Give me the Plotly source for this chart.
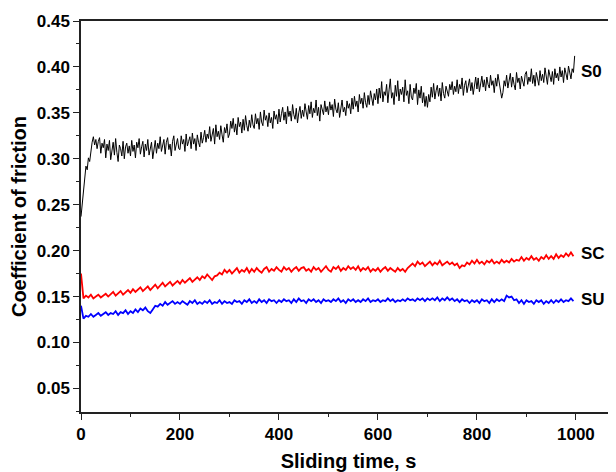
import plotly.graph_objects as go

# Sampling times (s): S0 every 2.5 s, SC/SU every 5 s
time_s0 = [i * 2.5 for i in range(400)]
time_s = list(range(0, 1000, 5))

s0 = [
    0.237, 0.252, 0.268, 0.281, 0.292, 0.288, 0.301, 0.297, 0.309, 0.318, 0.324, 0.315, 0.321, 0.311, 0.319, 0.323, 0.306, 0.317, 0.312, 0.321,
    0.301, 0.316, 0.309, 0.320, 0.299, 0.312, 0.318, 0.304, 0.322, 0.307, 0.297, 0.315, 0.311, 0.303, 0.319, 0.300, 0.313, 0.317, 0.306, 0.314,
    0.303, 0.320, 0.308, 0.315, 0.301, 0.318, 0.312, 0.322, 0.305, 0.313, 0.319, 0.302, 0.316, 0.309, 0.321, 0.304, 0.312, 0.318, 0.300, 0.314,
    0.320, 0.306, 0.317, 0.311, 0.324, 0.308, 0.315, 0.321, 0.305, 0.318, 0.323, 0.310, 0.316, 0.303, 0.319, 0.325, 0.309, 0.314, 0.322, 0.311,
    0.310, 0.325, 0.316, 0.321, 0.308, 0.327, 0.314, 0.319, 0.324, 0.311, 0.328, 0.316, 0.322, 0.309, 0.326, 0.318, 0.313, 0.329, 0.317, 0.323,
    0.331, 0.318, 0.327, 0.322, 0.335, 0.319, 0.329, 0.333, 0.316, 0.337, 0.324, 0.330, 0.321, 0.336, 0.326, 0.318, 0.334, 0.328, 0.338, 0.323,
    0.327, 0.341, 0.333, 0.344, 0.329, 0.338, 0.326, 0.345, 0.335, 0.340, 0.328, 0.343, 0.331, 0.347, 0.336, 0.330, 0.342, 0.334, 0.348, 0.337,
    0.333, 0.349, 0.338, 0.344, 0.332, 0.351, 0.340, 0.336, 0.353, 0.342, 0.347, 0.335, 0.350, 0.339, 0.345, 0.333, 0.352, 0.343, 0.348, 0.338,
    0.354, 0.340, 0.349, 0.356, 0.342, 0.351, 0.338, 0.357, 0.346, 0.352, 0.341, 0.359, 0.348, 0.343, 0.355, 0.339, 0.350, 0.357, 0.344, 0.353,
    0.346, 0.360, 0.351, 0.343, 0.358, 0.349, 0.362, 0.345, 0.355, 0.350, 0.364, 0.347, 0.356, 0.341, 0.359, 0.353, 0.348, 0.363, 0.351, 0.357,
    0.348, 0.362, 0.353, 0.359, 0.346, 0.365, 0.354, 0.350, 0.361, 0.345, 0.358, 0.364, 0.351, 0.356, 0.347, 0.363, 0.355, 0.360, 0.349, 0.366,
    0.354, 0.368, 0.357, 0.363, 0.351, 0.370, 0.360, 0.366, 0.355, 0.372, 0.361, 0.356, 0.369, 0.359, 0.374, 0.363, 0.358, 0.371, 0.364, 0.376,
    0.360, 0.377, 0.366, 0.384, 0.362, 0.373, 0.369, 0.381, 0.361, 0.375, 0.387, 0.366, 0.372, 0.359, 0.380, 0.368, 0.385, 0.363, 0.376, 0.370,
    0.378, 0.362, 0.386, 0.369, 0.374, 0.360, 0.381, 0.367, 0.364, 0.377, 0.371, 0.382, 0.359, 0.375, 0.366, 0.379, 0.361, 0.372, 0.357, 0.368,
    0.356, 0.370, 0.362, 0.378, 0.367, 0.382, 0.365, 0.374, 0.380, 0.368, 0.377, 0.363, 0.383, 0.371, 0.366, 0.379, 0.373, 0.368, 0.381, 0.375,
    0.384, 0.370, 0.379, 0.373, 0.386, 0.371, 0.381, 0.376, 0.388, 0.369, 0.380, 0.385, 0.372, 0.378, 0.387, 0.374, 0.383, 0.370, 0.382, 0.389,
    0.376, 0.388, 0.373, 0.384, 0.390, 0.378, 0.386, 0.374, 0.389, 0.381, 0.377, 0.391, 0.380, 0.385, 0.372, 0.388, 0.379, 0.392, 0.383, 0.376,
    0.366, 0.372, 0.385, 0.379, 0.391, 0.377, 0.384, 0.393, 0.378, 0.389, 0.381, 0.375, 0.394, 0.383, 0.388, 0.376, 0.390, 0.384, 0.379, 0.392,
    0.395, 0.381, 0.389, 0.384, 0.398, 0.382, 0.391, 0.379, 0.394, 0.387, 0.380, 0.396, 0.385, 0.392, 0.383, 0.399, 0.386, 0.381, 0.397, 0.390,
    0.384, 0.395, 0.381, 0.398, 0.388, 0.393, 0.385, 0.400, 0.389, 0.396, 0.383, 0.399, 0.390, 0.386, 0.401, 0.392, 0.387, 0.398, 0.394, 0.412,
]

sc = [
    0.175, 0.148, 0.151, 0.149, 0.152, 0.148, 0.150, 0.152, 0.149, 0.151,
    0.153, 0.150, 0.152, 0.155, 0.151, 0.154, 0.156, 0.152, 0.155, 0.157,
    0.154, 0.158, 0.155, 0.157, 0.160, 0.156, 0.159, 0.161, 0.157, 0.160,
    0.163, 0.159, 0.162, 0.165, 0.161, 0.164, 0.166, 0.162, 0.165, 0.167,
    0.164, 0.168, 0.165, 0.167, 0.170, 0.166, 0.169, 0.171, 0.168, 0.172,
    0.170, 0.174, 0.171, 0.168, 0.172, 0.173, 0.176, 0.174, 0.179, 0.176,
    0.179, 0.175, 0.178, 0.181, 0.176, 0.179, 0.177, 0.181, 0.176, 0.180,
    0.177, 0.181, 0.178, 0.176, 0.180, 0.182, 0.177, 0.180, 0.178, 0.182,
    0.179, 0.177, 0.182, 0.179, 0.181, 0.177, 0.180, 0.182, 0.178, 0.181,
    0.182, 0.178, 0.180, 0.177, 0.182, 0.179, 0.181, 0.177, 0.180, 0.183,
    0.179, 0.177, 0.182, 0.180, 0.183, 0.178, 0.181, 0.179, 0.183, 0.180,
    0.182, 0.179, 0.183, 0.178, 0.181, 0.179, 0.182, 0.177, 0.180, 0.178,
    0.181, 0.177, 0.180, 0.182, 0.178, 0.181, 0.179, 0.177, 0.181, 0.178,
    0.180, 0.177, 0.181, 0.184, 0.186, 0.183, 0.188, 0.185, 0.187, 0.183,
    0.186, 0.188, 0.184, 0.187, 0.185, 0.189, 0.184, 0.186, 0.188, 0.185,
    0.187, 0.184, 0.186, 0.181, 0.184, 0.183, 0.187, 0.185, 0.189, 0.186,
    0.190, 0.186, 0.188, 0.185, 0.189, 0.187, 0.190, 0.186, 0.188, 0.186,
    0.190, 0.187, 0.189, 0.187, 0.191, 0.188, 0.190, 0.189, 0.193, 0.189,
    0.192, 0.190, 0.194, 0.190, 0.192, 0.189, 0.193, 0.191, 0.195, 0.191,
    0.194, 0.191, 0.196, 0.192, 0.195, 0.193, 0.197, 0.194, 0.198, 0.194,
]

su = [
    0.140, 0.126, 0.129, 0.128, 0.131, 0.128, 0.130, 0.132, 0.129, 0.131,
    0.133, 0.130, 0.132, 0.131, 0.134, 0.130, 0.133, 0.132, 0.135, 0.131,
    0.134, 0.132, 0.136, 0.133, 0.137, 0.135, 0.138, 0.134, 0.132, 0.136,
    0.140, 0.139, 0.142, 0.140, 0.144, 0.141, 0.143, 0.145, 0.142, 0.144,
    0.142, 0.145, 0.143, 0.141, 0.145, 0.143, 0.146, 0.142, 0.144, 0.142,
    0.145, 0.143, 0.146, 0.142, 0.144, 0.143, 0.146, 0.142, 0.145, 0.143,
    0.144, 0.142, 0.146, 0.144, 0.145, 0.142, 0.146, 0.144, 0.147, 0.143,
    0.145, 0.143, 0.147, 0.144, 0.146, 0.143, 0.147, 0.145, 0.146, 0.143,
    0.146, 0.144, 0.147, 0.145, 0.146, 0.143, 0.147, 0.144, 0.148, 0.145,
    0.146, 0.143, 0.147, 0.145, 0.147, 0.144, 0.146, 0.143, 0.147, 0.145,
    0.146, 0.144, 0.147, 0.145, 0.148, 0.144, 0.146, 0.143, 0.147, 0.145,
    0.147, 0.144, 0.146, 0.144, 0.147, 0.145, 0.148, 0.144, 0.146, 0.145,
    0.147, 0.144, 0.146, 0.145, 0.148, 0.145, 0.147, 0.144, 0.146, 0.145,
    0.147, 0.145, 0.148, 0.146, 0.147, 0.145, 0.148, 0.146, 0.148, 0.145,
    0.148, 0.146, 0.148, 0.146, 0.149, 0.145, 0.148, 0.146, 0.149, 0.146,
    0.148, 0.145, 0.147, 0.144, 0.147, 0.145, 0.146, 0.143, 0.146, 0.144,
    0.146, 0.143, 0.147, 0.145, 0.146, 0.143, 0.147, 0.144, 0.147, 0.145,
    0.147, 0.145, 0.151, 0.149, 0.150, 0.146, 0.147, 0.143, 0.146, 0.142,
    0.146, 0.144, 0.145, 0.142, 0.146, 0.144, 0.146, 0.142, 0.145, 0.143,
    0.146, 0.143, 0.146, 0.144, 0.147, 0.144, 0.146, 0.145, 0.148, 0.145,
]

series_names = ["S0", "SC", "SU"]
series_colors = ["#000000", "#ff0000", "#0000ff"]
series_widths = [1.0, 1.8, 1.8]
series_times = [time_s0, time_s, time_s]
series_values = [s0, sc, su]
label_y = [0.3946, 0.1972, 0.1468]

x_ticks = [0, 200, 400, 600, 800, 1000]
y_ticks = [0.05, 0.10, 0.15, 0.20, 0.25, 0.30, 0.35, 0.40, 0.45]

FONT = "Liberation Sans, Arial, sans-serif"

fig = go.Figure()
for name, col, w, xs, vals in zip(series_names, series_colors, series_widths, series_times, series_values):
    fig.add_trace(go.Scatter(x=xs, y=vals, mode="lines", name=name,
                             line=dict(color=col, width=w), showlegend=False))

for name, yv in zip(series_names, label_y):
    fig.add_annotation(x=1007, y=yv, xref="x", yref="y", text="<b>%s</b>" % name,
                       showarrow=False, xanchor="left", yanchor="middle",
                       font=dict(family=FONT, size=17, color="#000"))

axis_common = dict(showgrid=False, zeroline=False, showline=True, linecolor="#222",
                   linewidth=1.5, ticks="outside", ticklen=6, tickwidth=1.3,
                   tickcolor="#222", tickfont=dict(family=FONT, size=17, color="#000"),
                   automargin=False)

# The page body has an 8px margin, so the figure is 8px smaller and offset.
fig.update_layout(
    width=608, height=464,
    margin=dict(l=73, r=0, t=13, b=60),
    paper_bgcolor="white", plot_bgcolor="white",
    xaxis=dict(range=[0, 1081], tickvals=x_ticks,
               ticktext=["<b>%d</b>" % v for v in x_ticks],
               minor=dict(dtick=100, tick0=0, ticks="outside", ticklen=3, tickcolor="#222", tickwidth=1.2),
               mirror=True,
               title=dict(text="<b>Sliding time, s</b>", standoff=11,
                          font=dict(family=FONT, size=20, color="#000")),
               **axis_common),
    yaxis=dict(range=[0.0243, 0.45], tickvals=y_ticks,
               ticktext=["<b>%.2f</b>" % v for v in y_ticks],
               minor=dict(dtick=0.025, tick0=0.025, ticks="outside", ticklen=3, tickcolor="#222", tickwidth=1.2),
               mirror=False,
               title=dict(text="<b>Coefficient of friction</b>", standoff=9,
                          font=dict(family=FONT, size=20, color="#000")),
               **axis_common),
)

fig.write_html("out.html")
